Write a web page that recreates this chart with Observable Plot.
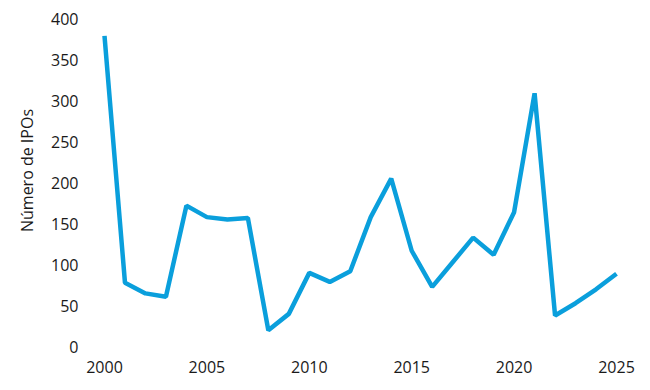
<!DOCTYPE html>
<html>
<head>
<meta charset="utf-8">
<script src="https://cdn.jsdelivr.net/npm/d3@7"></script>
<script src="https://cdn.jsdelivr.net/npm/@observablehq/plot@0.6"></script>
<style>
html,body{margin:0;padding:0;background:#fff;}
svg{font-family:"Open Sans",sans-serif;}
</style>
</head>
<body>
<div id="chart"></div>
<script>
const years = [2000,2001,2002,2003,2004,2005,2006,2007,2008,2009,2010,2011,2012,2013,2014,2015,2016,2017,2018,2019,2020,2021,2022,2023,2024,2025];
const ipos = [380,79,66,62,173,159,156,158,21,41,91,80,93,159,206,118,74,104,134,113,165,310,39,54,71,90];
const yTicks = [0,50,100,150,200,250,300,350,400];
const xTicks = [2000,2005,2010,2015,2020,2025];
const yLabel = "Número de IPOs";

const data = years.map((y,i)=>({year:y, n:ipos[i]}));

const chart = Plot.plot({
  width: 650,
  height: 390,
  marginLeft: 104,
  marginRight: 34,
  marginTop: 19,
  marginBottom: 43,
  style: {fontFamily: '"Open Sans", sans-serif', fontSize: "16px", color: "#1a1a1a"},
  x: {domain: [2000, 2025]},
  y: {domain: [0, 400]},
  marks: [
    Plot.axisY({ticks: yTicks, tickSize: 0, tickPadding: 26, label: null, fontSize: 16}),
    Plot.axisX({ticks: xTicks, tickFormat: d => String(d), tickSize: 0, tickPadding: 14, label: null, fontSize: 16}),
    Plot.text([yLabel], {frameAnchor: "left", textAnchor: "middle", dx: -77, dy: -13, rotate: -90, fontSize: 16, fill: "#1a1a1a"}),
    Plot.line(data, {x: "year", y: "n", stroke: "#0a9fdc", strokeWidth: 4.5, strokeLinejoin: "miter", strokeLinecap: "butt"})
  ]
});
document.getElementById("chart").appendChild(chart);
</script>
</body>
</html>
